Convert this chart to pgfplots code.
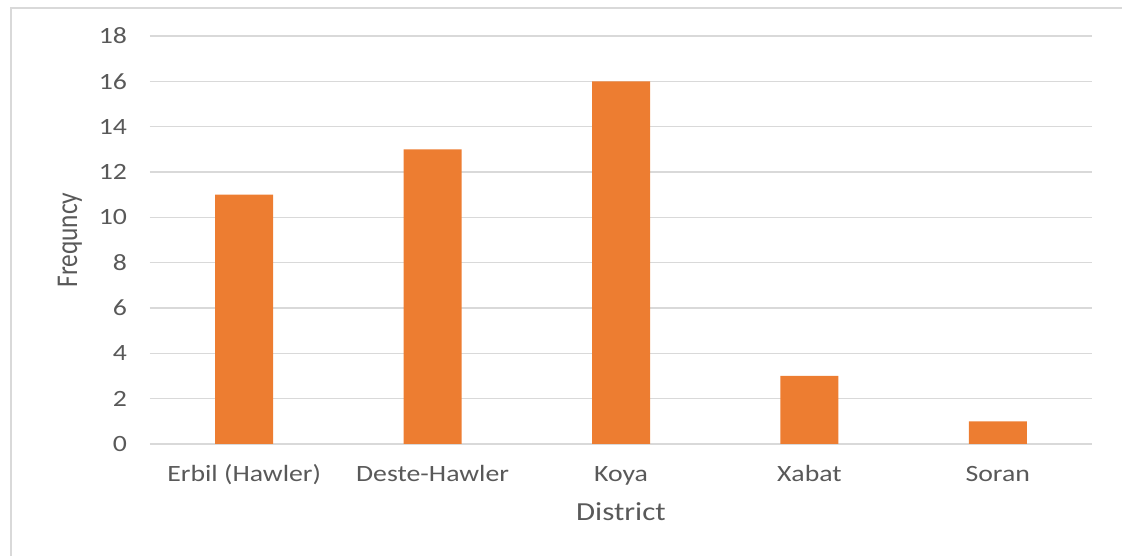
\documentclass[border=0pt]{standalone}
\usepackage{fontspec}
\usepackage{graphicx}
\setmainfont{Carlito}[FakeStretch=1.19]
\newfontfamily\plainfont{Carlito}
\usepackage{pgfplots}
\pgfplotsset{compat=1.18}
\definecolor{barorange}{HTML}{ED7D31}
\definecolor{gridgray}{HTML}{D9D9D9}
\definecolor{textgray}{HTML}{595959}
\begin{document}
\begin{tikzpicture}[x=1pt,y=1pt]
\path[use as bounding box] (0,0) rectangle (841.5,417);
\draw[gridgray, line width=1.5pt] (8.25,0) -- (8.25,411) -- (841.5,411);
\begin{axis}[
  at={(112.5pt,84pt)}, anchor=south west,
  scale only axis, width=706.5pt, height=306pt,
  xmin=-0.5, xmax=4.5, ymin=0, ymax=18,
  ytick={0,2,...,18},
  xtick={0,1,2,3,4},
  xticklabels={Erbil (Hawler),Deste-Hawler,Koya,Xabat,Soran},
  /pgf/number format/assume math mode=true,
  axis line style={draw=none},
  tick style={draw=none},
  major tick length=0pt,
  ymajorgrids, xmajorgrids=false,
  grid style={gridgray, line width=1.1pt},
  yticklabel style={anchor=east, inner sep=0pt, xshift=-17pt, font=\fontsize{17.5}{20}\selectfont, text=textgray},
  xticklabel style={anchor=base, inner sep=0pt, yshift=-28.5pt, font=\fontsize{17.5}{20}\selectfont, text=textgray},
  ylabel={\scalebox{1}[1.19]{Frequncy}},
  xlabel={District},
  ylabel style={at={(axis description cs:-0.085,0.5)}, anchor=center, font=\plainfont\fontsize{19}{22}\selectfont, text=textgray},
  xlabel style={at={(axis description cs:0.5,-0.188)}, anchor=base, font=\fontsize{19.5}{22}\selectfont, text=textgray},
]
\addplot[ybar, bar width=43.5pt, fill=barorange, draw=none]
  coordinates {(0,11) (1,13) (2,16) (3,3) (4,1)};
\end{axis}
\end{tikzpicture}
\end{document}
